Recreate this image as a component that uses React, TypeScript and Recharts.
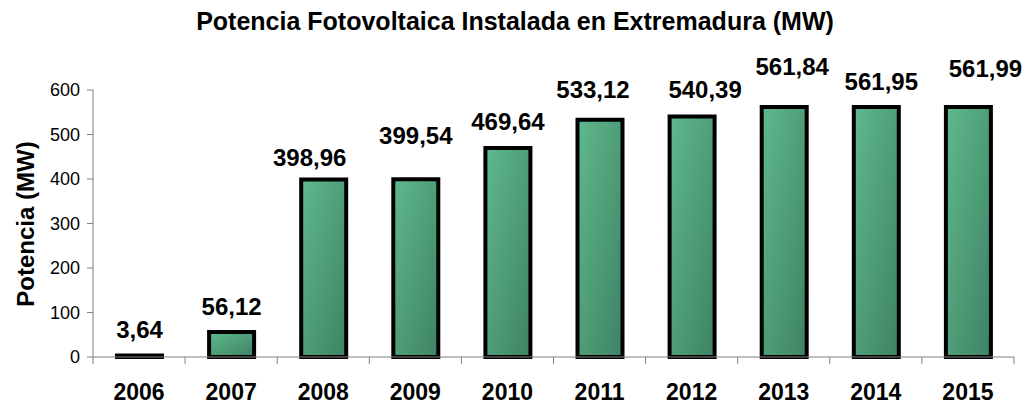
import { BarChart, Bar, XAxis, YAxis, LabelList } from 'recharts';

const years = ['2006', '2007', '2008', '2009', '2010', '2011', '2012', '2013', '2014', '2015'];
const potencia = [3.64, 56.12, 398.96, 399.54, 469.64, 533.12, 540.39, 561.84, 561.95, 561.99];
const yTicks = [0, 100, 200, 300, 400, 500, 600];

// hand-placed label nudges, like the original spreadsheet
const labelDx = [0, 0, -14, 0, 0, -7, 13, 8, 5, 17];
const labelDy = [0, 0, 4, -18, -1, -5, -2, -15, 0, -13];

const data = years.map((year, i) => ({ year, value: potencia[i] }));

const FONT = '"Liberation Sans", Arial, sans-serif';
const BAND = 92.1;

const formatValue = (v: number) => v.toFixed(2).replace('.', ',');

function YearTick(props: any) {
  const { x, y, payload, index } = props;
  return (
    <g>
      {index === 0 && <line x1={x - BAND / 2} x2={x - BAND / 2} y1={y} y2={y + 7} stroke="#808080" />}
      <line x1={x + BAND / 2} x2={x + BAND / 2} y1={y} y2={y + 7} stroke="#808080" />
      <text x={x} y={y + 43} textAnchor="middle" fontSize={23} fontWeight="bold" fill="#000" fontFamily={FONT}>
        {payload.value}
      </text>
    </g>
  );
}

function ValueLabel(props: any) {
  const { x, y, width, value, index } = props;
  const i = index ?? 0;
  return (
    <text
      x={Number(x) + Number(width) / 2 + (labelDx[i] || 0)}
      y={Number(y) - 17 + (labelDy[i] || 0)}
      textAnchor="middle"
      fontSize={24}
      fontWeight="bold"
      fill="#000"
      fontFamily={FONT}
    >
      {formatValue(Number(value))}
    </text>
  );
}

export default function App() {
  return (
    <div style={{ position: 'absolute', left: 0, top: 0, width: 1027, height: 406, background: '#fff' }}>
      <BarChart width={1027} height={406} data={data} margin={{ top: 90, right: 13, bottom: 0, left: 0 }}>
        <defs>
          <linearGradient id="barFill" x1="0" y1="0" x2="1" y2="1">
            <stop offset="0%" stopColor="#5fb98e" />
            <stop offset="100%" stopColor="#3e8264" />
          </linearGradient>
        </defs>
        <text x={515} y={30} textAnchor="middle" fontSize={25} fontWeight="bold" fill="#000" fontFamily={FONT}>
          Potencia Fotovoltaica Instalada en Extremadura (MW)
        </text>
        <text
          x={25}
          y={224}
          transform="rotate(-90 25 224)"
          textAnchor="middle"
          dominantBaseline="central"
          fontSize={24}
          fontWeight="bold"
          fill="#000"
          fontFamily={FONT}
        >
          Potencia (MW)
        </text>
        <XAxis
          dataKey="year"
          height={49}
          tickLine={false}
          tickSize={0}
          tickMargin={0}
          axisLine={{ stroke: '#808080' }}
          tick={<YearTick />}
          interval={0}
        />
        <YAxis
          width={93}
          domain={[0, 600]}
          ticks={yTicks}
          tickSize={6}
          tickMargin={7}
          axisLine={{ stroke: '#808080' }}
          tickLine={{ stroke: '#808080' }}
          tick={{ fill: '#000', fontSize: 18, fontFamily: FONT }}
        />
        <Bar dataKey="value" fill="url(#barFill)" stroke="#000" strokeWidth={4} barSize={45} isAnimationActive={false}>
          <LabelList dataKey="value" content={<ValueLabel />} />
        </Bar>
      </BarChart>
    </div>
  );
}
